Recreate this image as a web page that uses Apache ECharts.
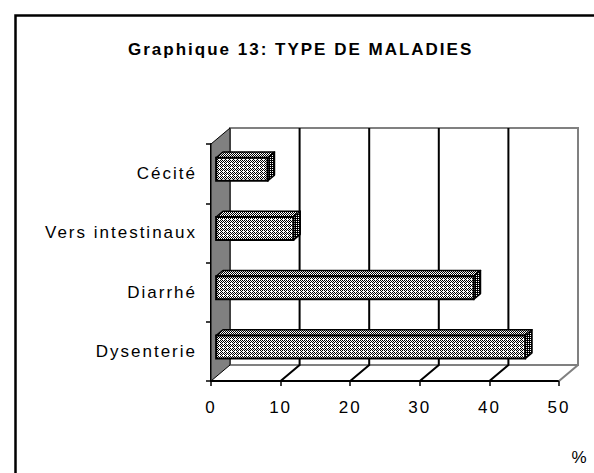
<!DOCTYPE html>
<html><head><meta charset="utf-8">
<script src="https://cdn.jsdelivr.net/npm/echarts@6/dist/echarts.min.js"></script>
<style>
html,body{margin:0;padding:0;background:#fff;}
#main{width:594px;height:473px;}
#main text{letter-spacing:2px;}
</style></head><body><div id="main"></div>
<script>
const titleText = 'Graphique 13: TYPE DE MALADIES';
const categories = ['Dysenterie', 'Diarrhé', 'Vers intestinaux', 'Cécité'];
const values = [44.4, 37.0, 11.1, 7.4];
const xTicks = [0, 10, 20, 30, 40, 50];
const unitLabel = '%';

const xMin = xTicks[0], xMax = xTicks[xTicks.length - 1], xStep = xTicks[1] - xTicks[0];
const DX = 19, DY = -16;      // depth offset of the pseudo-3D back plane
const F0 = 0.27, F1 = 0.63;   // bar depth range (fraction of depth)
const FONT = 'Arial, "Liberation Sans", sans-serif';

function makePattern(size, dots) {
  const c = document.createElement('canvas');
  c.width = size[0]; c.height = size[1];
  const ctx = c.getContext('2d');
  ctx.fillStyle = '#fff'; ctx.fillRect(0, 0, size[0], size[1]);
  ctx.fillStyle = '#000';
  dots.forEach(d => ctx.fillRect(d[0], d[1], 1, 1));
  return { image: c, repeat: 'repeat', imageWidth: size[0], imageHeight: size[1] };
}
const frontPat = makePattern([4, 4], [[0, 0], [2, 0], [1, 1], [3, 1], [0, 2], [2, 2], [1, 3]]);
const topPat = makePattern([2, 2], [[0, 0], [1, 1]]);
const sidePat = makePattern([2, 2], [[0, 0], [1, 1], [1, 0]]);

function wallsRender(params, api) {
  const band = api.size([0, 1])[1];
  const b = api.coord([xMin, 0]);
  const t = api.coord([xMin, categories.length - 1]);
  const xl = b[0], bottom = b[1] + band / 2, top = t[1] - band / 2;
  const xr = api.coord([xMax, 0])[0];
  return { type: 'group', children: [
    { type: 'polygon', shape: { points: [[xl + DX, top + DY], [xr + DX, top + DY], [xr + DX, bottom + DY], [xl + DX, bottom + DY]] },
      style: { fill: '#fff', stroke: '#808080', lineWidth: 2 } },
    { type: 'polygon', shape: { points: [[xl, top], [xl + DX, top + DY], [xl + DX, bottom + DY], [xl, bottom]] },
      style: { fill: '#808080', stroke: '#000', lineWidth: 1 } },
    { type: 'line', shape: { x1: xr, y1: bottom, x2: xr + DX, y2: bottom + DY },
      style: { stroke: '#808080', lineWidth: 2 } }
  ] };
}

function gridRender(params, api) {
  const v = api.value(0);
  const band = api.size([0, 1])[1];
  const p = api.coord([v, 0]);
  const x = p[0], bottom = p[1] + band / 2;
  const top = api.coord([v, categories.length - 1])[1] - band / 2;
  return { type: 'polyline', shape: { points: [[x + DX, top + DY], [x + DX, bottom + DY], [x, bottom]] },
    style: { stroke: '#000', lineWidth: 2, fill: 'none' } };
}

function barRender(params, api) {
  const v = api.value(0), c = api.value(1);
  const band = api.size([0, 1])[1];
  const p0 = api.coord([0, c]), p1 = api.coord([v, c]);
  const h = band * 0.39;
  const ox = F0 * DX, oy = F0 * DY, dx = (F1 - F0) * DX, dy = (F1 - F0) * DY;
  const x0 = p0[0] + ox, x1 = p1[0] + ox, yc = p0[1] + oy, yt = yc - h / 2, yb = yc + h / 2;
  return { type: 'group', children: [
    { type: 'polygon', shape: { points: [[x0, yt], [x1, yt], [x1 + dx, yt + dy], [x0 + dx, yt + dy]] },
      style: { fill: topPat, stroke: '#000', lineWidth: 1.5, lineJoin: 'round' } },
    { type: 'polygon', shape: { points: [[x1, yt], [x1 + dx, yt + dy], [x1 + dx, yb + dy], [x1, yb]] },
      style: { fill: sidePat, stroke: '#000', lineWidth: 1.5, lineJoin: 'round' } },
    { type: 'rect', shape: { x: x0, y: yt, width: x1 - x0, height: h },
      style: { fill: frontPat, stroke: '#000', lineWidth: 2 } }
  ] };
}

const chart = echarts.init(document.getElementById('main'), null, { renderer: 'svg' });
chart.setOption({
  backgroundColor: '#fff',
  animation: false,
  title: {
    text: titleText, left: 123, top: 36,
    textStyle: { fontFamily: FONT, fontSize: 17, fontWeight: 'bold', color: '#000' }
  },
  grid: { left: 211, right: 35, top: 144, bottom: 92, containLabel: false },
  xAxis: {
    type: 'value', min: xMin, max: xMax, interval: xStep,
    axisLine: { show: true, lineStyle: { color: '#000', width: 2 } },
    axisTick: { show: true, length: 5, lineStyle: { color: '#000', width: 1.5 } },
    axisLabel: { margin: 18, color: '#000', fontSize: 17, fontFamily: FONT },
    splitLine: { show: false }
  },
  yAxis: {
    type: 'category', data: categories,
    axisLine: { show: true, lineStyle: { color: '#000', width: 2 } },
    axisTick: { show: true, length: 5, lineStyle: { color: '#000', width: 1.5 } },
    axisLabel: { margin: 14, color: '#000', fontSize: 17, fontFamily: FONT, interval: 0 },
    splitLine: { show: false }
  },
  graphic: [
    { type: 'rect', left: 13, top: 13, shape: { width: 700, height: 600 },
      style: { fill: 'none', stroke: '#000', lineWidth: 2.5 }, z: 100 },
    { type: 'text', x: 580, y: 457,
      style: { text: unitLabel, font: '17px ' + FONT, fill: '#000', textAlign: 'center', textVerticalAlign: 'middle' } }
  ],
  series: [
    { type: 'custom', name: 'walls', clip: false, silent: true, z: 1, renderItem: wallsRender, data: [[xMin, 0]], encode: { x: 0, y: 1 } },
    { type: 'custom', name: 'grid', clip: false, silent: true, z: 2, renderItem: gridRender,
      data: xTicks.slice(1, -1).map(v => [v, 0]), encode: { x: 0, y: 1 } },
    { type: 'custom', name: '%', clip: false, z: 3, renderItem: barRender,
      data: values.map((v, i) => [v, i]), encode: { x: 0, y: 1 } }
  ]
});
</script></body></html>
